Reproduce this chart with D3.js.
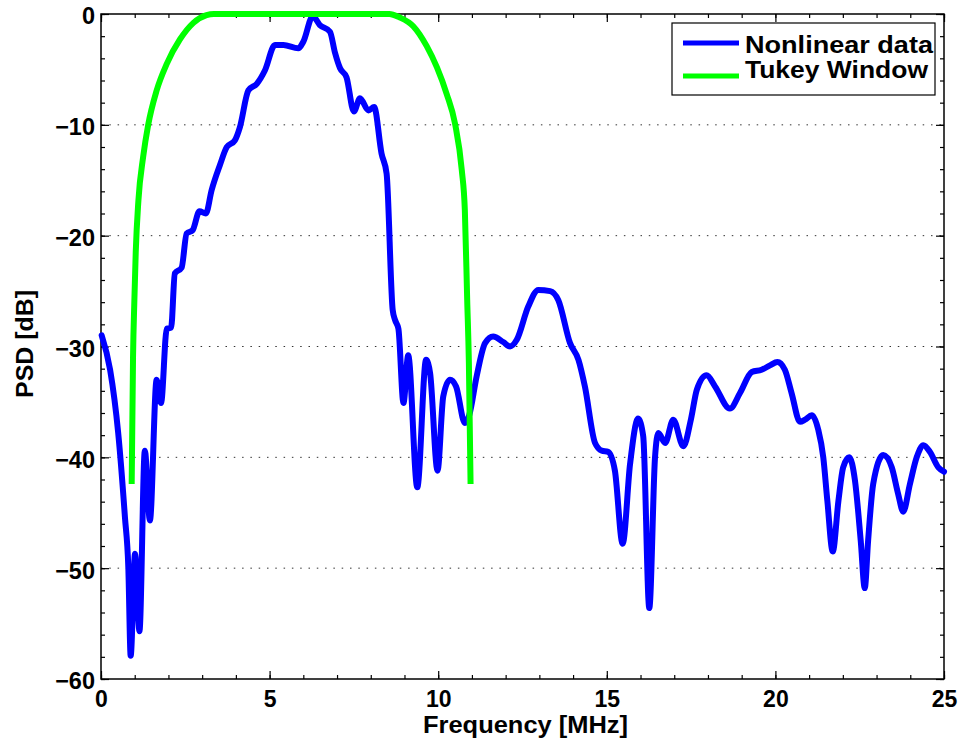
<!DOCTYPE html>
<html lang="en">
<head>
  <meta charset="UTF-8">
  <title>PSD vs Frequency</title>
  <script src="https://d3js.org/d3.v7.min.js"></script>
  <style>
    body {
      margin: 0;
      background: #fff;
      overflow: hidden;
    }
    svg {
      display: block;
      font-family: "Liberation Sans", Arial, Helvetica, sans-serif;
      font-weight: bold;
    }
  </style>
</head>
<body>
  <svg width="965" height="751"></svg>
  <script>
  // Values.
  const freqBlue = [0.02, 0.27, 0.51, 0.71, 0.81, 0.88, 1.01, 1.14, 1.30, 1.45, 1.65, 1.78, 1.95, 2.08,
    2.19, 2.39, 2.54, 2.72, 2.92, 3.11, 3.28, 3.53, 3.73, 3.97, 4.12, 4.37, 4.62, 4.86, 5.16, 5.41,
    5.85, 6.00, 6.28, 6.49, 6.79, 6.94, 7.09, 7.28, 7.50, 7.68, 7.93, 8.10, 8.32, 8.47, 8.65, 8.72,
    8.82, 8.97, 9.11, 9.38, 9.64, 9.76, 9.98, 10.15, 10.35, 10.53, 10.79, 10.92, 11.14, 11.39, 11.63,
    11.93, 12.13, 12.33, 12.67, 12.97, 13.32, 13.56, 13.91, 14.16, 14.35, 14.65, 14.85, 15.04, 15.24,
    15.47, 15.69, 15.93, 16.08, 16.26, 16.43, 16.53, 16.73, 16.97, 17.27, 17.50, 17.67, 17.96, 18.21,
    18.65, 18.95, 19.30, 19.59, 19.84, 20.06, 20.28, 20.48, 20.73, 20.88, 21.08, 21.27, 21.42, 21.54,
    21.70, 21.87, 22.01, 22.19, 22.36, 22.53, 22.65, 22.75, 22.90, 23.20, 23.45, 23.64, 23.79, 23.99,
    24.19, 24.39, 24.58, 24.83, 25.00];
  const psdBlue = [-29.0, -32.1, -37.8, -45.4, -49.9, -57.9, -48.7, -55.7, -39.4, -45.7, -33.0, -35.1, -28.4, -28.3,
    -23.4, -22.9, -19.8, -19.5, -17.8, -18.0, -15.9, -13.6, -12.0, -11.4, -10.2, -6.9, -6.3, -5.1, -2.8, -2.8,
    -3.1, -2.5, -0.2, -1.0, -1.6, -3.5, -4.9, -5.7, -8.8, -7.6, -8.7, -8.4, -12.6, -14.4, -26.7, -27.6,
    -28.4, -35.1, -30.8, -42.7, -31.2, -32.4, -41.2, -34.5, -33.0, -33.6, -36.9, -36.2, -32.7, -29.7, -29.1,
    -29.6, -30.0, -29.4, -26.4, -24.9, -25.0, -25.8, -29.7, -31.2, -33.6, -38.7, -39.4, -39.5, -41.2,
    -47.8, -40.6, -36.5, -38.1, -53.6, -40.0, -37.8, -38.7, -36.6, -39.0, -36.5, -33.9, -32.6, -33.6,
    -35.6, -34.2, -32.3, -32.1, -31.7, -31.4, -32.1, -34.2, -36.8, -36.6, -36.2, -37.5, -40.0, -43.9,
    -48.5, -43.9, -40.9, -40.0, -42.1, -47.5, -51.8, -47.5, -42.4, -39.8, -40.9, -43.3, -44.9, -42.4,
    -40.0, -38.9, -39.5, -40.9, -41.3];

  const freqTukey = [0.91, 0.95, 0.99, 1.03, 1.11, 1.25, 1.40, 1.65, 1.95, 2.34, 2.74, 3.13, 3.35,
    8.55, 8.85, 9.26, 9.66, 9.96, 10.25, 10.50, 10.70, 10.79, 10.86, 10.91, 10.96];
  const psdTukey = [-42.4, -31.0, -25.8, -21.5, -16.8, -12.9, -10.0, -6.9, -4.5, -2.3, -0.8, -0.1, 0,
    0, -0.3, -1.1, -2.9, -4.8, -7.2, -9.9, -14.1, -17.7, -25.8, -31.5, -42.4];

  const xMajor = [0, 5, 10, 15, 20, 25];
  const yMajor = [0, -10, -20, -30, -40, -50, -60];
  const seriesNames = ["Nonlinear data", "Tukey Window"];
  const seriesColors = ["#0000ff", "#00ff00"];

  const marginLeft = 101, marginTop = 14, plotW = 843, plotH = 665;
  const svg = d3.select("svg");
  const g = svg.append("g").attr("transform", `translate(${marginLeft},${marginTop})`);

  const x = d3.scaleLinear().domain([0, 25]).range([0, plotW]);
  const y = d3.scaleLinear().domain([-60, 0]).range([plotH, 0]);

  // dotted horizontal grid at the major y ticks
  g.selectAll("line.grid")
    .data(yMajor.filter(d => d !== 0 && d !== -60))
    .enter().append("line")
    .attr("class", "grid")
    .attr("x1", 0).attr("x2", plotW)
    .attr("y1", d => y(d)).attr("y2", d => y(d))
    .attr("stroke", "#333")
    .attr("stroke-width", 1)
    .attr("stroke-dasharray", "1.5,6.8");

  // ticks on all four sides, pointing inward
  function styleAxis(sel) {
    sel.select(".domain").remove();
    sel.selectAll("line").attr("stroke", "#000").attr("stroke-width", 1.2);
  }
  const xMinor = d3.range(0, 26, 1);
  const yMinor = d3.range(-60, 1, 2);

  g.append("g").attr("transform", `translate(0,${plotH})`)
    .call(d3.axisBottom(x).tickValues(xMinor).tickSize(-4).tickFormat("")).call(styleAxis);
  g.append("g")
    .call(d3.axisTop(x).tickValues(xMinor).tickSize(-4).tickFormat("")).call(styleAxis);
  g.append("g")
    .call(d3.axisLeft(y).tickValues(yMinor).tickSize(-4).tickFormat("")).call(styleAxis);
  g.append("g").attr("transform", `translate(${plotW},0)`)
    .call(d3.axisRight(y).tickValues(yMinor).tickSize(-4).tickFormat("")).call(styleAxis);

  const xAxis = g.append("g").attr("transform", `translate(0,${plotH})`)
    .call(d3.axisBottom(x).tickValues(xMajor).tickSize(-8).tickPadding(0).tickFormat(d3.format("d")))
    .call(styleAxis);
  xAxis.selectAll("text")
    .attr("y", 28).attr("dy", null)
    .attr("fill", "#000")
    .style("font-size", "23px").style("font-weight", "bold").style("font-family", "inherit");

  g.append("g")
    .call(d3.axisTop(x).tickValues(xMajor).tickSize(-8).tickFormat("")).call(styleAxis);

  const yAxis = g.append("g")
    .call(d3.axisLeft(y).tickValues(yMajor).tickSize(-8).tickPadding(6).tickFormat(d3.format("d")))
    .call(styleAxis);
  yAxis.selectAll("text")
    .attr("dy", "0.42em")
    .attr("fill", "#000")
    .style("font-size", "23.5px").style("font-weight", "bold").style("font-family", "inherit");

  g.append("g").attr("transform", `translate(${plotW},0)`)
    .call(d3.axisRight(y).tickValues(yMajor).tickSize(-8).tickFormat("")).call(styleAxis);

  // frame
  g.append("rect")
    .attr("x", 0).attr("y", 0).attr("width", plotW).attr("height", plotH)
    .attr("fill", "none").attr("stroke", "#000").attr("stroke-width", 1.5);

  // curves
  const line = d3.line()
    .x(d => x(d[0]))
    .y(d => y(d[1]))
    .curve(d3.curveMonotoneX);

  const blueData = freqBlue.map((f, i) => [f, psdBlue[i]]);
  const tukeyData = freqTukey.map((f, i) => [f, psdTukey[i]]);

  g.append("path")
    .datum(blueData)
    .attr("d", line)
    .attr("fill", "none")
    .attr("stroke", seriesColors[0])
    .attr("stroke-width", 6)
    .attr("stroke-linejoin", "round")
    .attr("stroke-linecap", "round");

  g.append("path")
    .datum(tukeyData)
    .attr("d", line)
    .attr("fill", "none")
    .attr("stroke", seriesColors[1])
    .attr("stroke-width", 6)
    .attr("stroke-linejoin", "round")
    .attr("stroke-linecap", "butt");

  // axis titles
  svg.append("text")
    .attr("x", marginLeft + plotW / 2 + 3)
    .attr("y", 733)
    .attr("text-anchor", "middle")
    .attr("textLength", 205)
    .attr("lengthAdjust", "spacingAndGlyphs")
    .style("font-size", "23px")
    .text("Frequency [MHz]");

  svg.append("text")
    .attr("transform", "translate(33,344) rotate(-90)")
    .attr("text-anchor", "middle")
    .attr("textLength", 108)
    .attr("lengthAdjust", "spacingAndGlyphs")
    .style("font-size", "23.5px")
    .text("PSD [dB]");

  // legend
  const legend = svg.append("g");
  legend.append("rect")
    .attr("x", 672).attr("y", 23).attr("width", 263).attr("height", 72)
    .attr("fill", "#fff").attr("stroke", "#000").attr("stroke-width", 1.2);

  const legendY = [43, 76];
  const legendBase = [52.7, 78.3];
  const legendLen = [188, 183];
  seriesNames.forEach((name, i) => {
    legend.append("line")
      .attr("x1", 683).attr("x2", 739)
      .attr("y1", legendY[i]).attr("y2", legendY[i])
      .attr("stroke", seriesColors[i])
      .attr("stroke-width", 5);
    legend.append("text")
      .attr("x", 745)
      .attr("y", legendBase[i])
      .attr("textLength", legendLen[i])
      .attr("lengthAdjust", "spacingAndGlyphs")
      .style("font-size", "24.5px")
      .text(name);
  });
  </script>
</body>
</html>
